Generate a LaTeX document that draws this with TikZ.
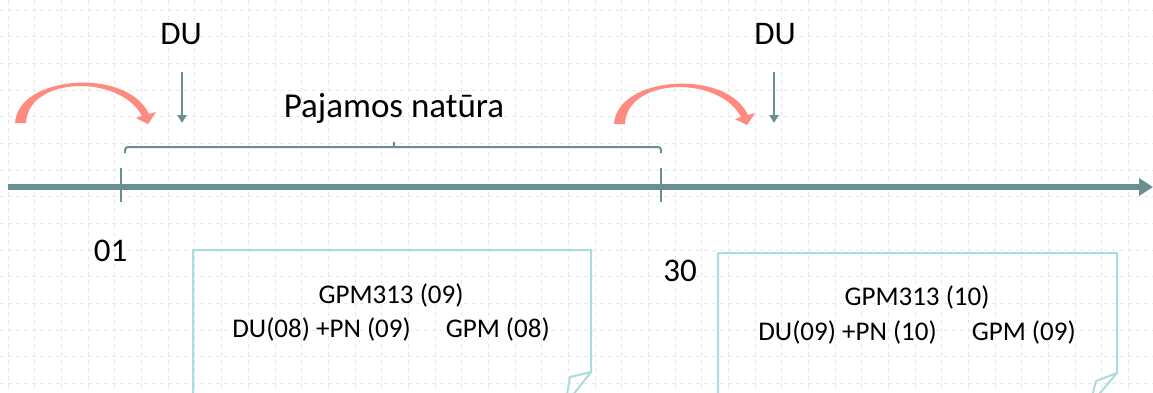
\documentclass[tikz,border=0pt]{standalone}
\usepackage{fontspec}
\setmainfont{Carlito}
\usetikzlibrary{arrows.meta}
\definecolor{axisteal}{RGB}{106,143,146}
\definecolor{hopred}{RGB}{255,138,128}
\definecolor{notecyan}{RGB}{170,220,222}
\definecolor{gridgray}{RGB}{232,232,232}
\tikzset{
	lbl/.style={inner sep=0pt, anchor=base, font=\fontsize{33}{40}\selectfont},
	notetext/.style={inner sep=0pt, anchor=base, font=\fontsize{27}{32}\selectfont},
	gridline/.style={draw=gridgray, line width=1pt, dash pattern=on 4pt off 4pt},
	axis/.style={draw=axisteal, line width=6pt, -{Triangle[length=14pt,width=17pt]}},
	tick/.style={draw=axisteal, line width=2pt},
	brace/.style={draw=axisteal, line width=2pt, rounded corners=3pt},
	darr/.style={draw=axisteal, line width=2.3pt, -{Triangle[length=8pt,width=9pt]}},
	note/.style={draw=notecyan, line width=2pt, line join=round},
	hop/.pic={
		\fill[hopred] (0,0) .. controls (3,-48) and (112,-56) .. (134,-9)
			-- (141,-11) -- (133,1) -- (121,-5) -- (127,-7)
			.. controls (105,-49) and (13,-47) .. (11,0) -- cycle;
	}
}
\begin{document}
\begin{tikzpicture}[x=1pt,y=-1pt]
	\useasboundingbox (0,0) rectangle (1153,392);
	\clip (0,0) rectangle (1153,392);
	\foreach \gx in {0,...,43}
		\draw[gridline] ({8.3+26.67*\gx},0) -- ({8.3+26.67*\gx},392);
	\foreach \gy in {0,...,14}
		\draw[gridline] (0,{10+26.67*\gy}) -- (1153,{10+26.67*\gy});

	\draw[note] (193,400) -- (193,250) -- (591,250) -- (591,372) -- (570,377) -- (566,400);
	\draw[note] (591,372) -- (569,400);
	\draw[note] (718,400) -- (718,253) -- (1117,253) -- (1117,373) -- (1096,381) -- (1091,400);
	\draw[note] (1117,373) -- (1094,400);
	\node[notetext] (gpm1) at (391,303) {GPM313 (09)};
	\node[notetext] (du08) at (391,337) {DU(08) +PN (09)\hspace{35pt}GPM (08)};
	\node[notetext] (gpm2) at (917,305) {GPM313 (10)};
	\node[notetext] (du09) at (917,340) {DU(09) +PN (10)\hspace{35pt}GPM (09)};

	\coordinate (tl0) at (8,187);
	\coordinate (tl1) at (1153,187);
	\coordinate (d01) at (121,187);
	\coordinate (d30) at (661,187);
	\draw[axis] (tl0) -- (tl1);
	\draw[tick] ([yshift=19pt]d01) -- ([yshift=-15pt]d01);
	\draw[tick] ([yshift=19pt]d30) -- ([yshift=-15pt]d30);
	\node[lbl] (l01) at (110.5,261) {01};
	\node[lbl] (l30) at (680,281) {30};

	\draw[brace] (125,153) -- (125,147) -- (661,147) -- (661,153);
	\draw[tick] (394,147) -- (394,142);
	\node[lbl, font=\fontsize{35}{42}\selectfont] (income) at (394,117) {Pajamos natūra};

	\node[lbl] (du1) at (181,44) {DU};
	\node[lbl] (du2) at (775,44) {DU};
	\coordinate (du1end) at (182,123);
	\coordinate (du2end) at (774,123);
	\draw[darr, shorten <=28pt] (du1.south -| du1end) -- (du1end);
	\draw[darr, shorten <=28pt] (du2.south -| du2end) -- (du2end);

	\pic at (15,123) {hop};
	\pic at (614,124) {hop};
\end{tikzpicture}
\end{document}
